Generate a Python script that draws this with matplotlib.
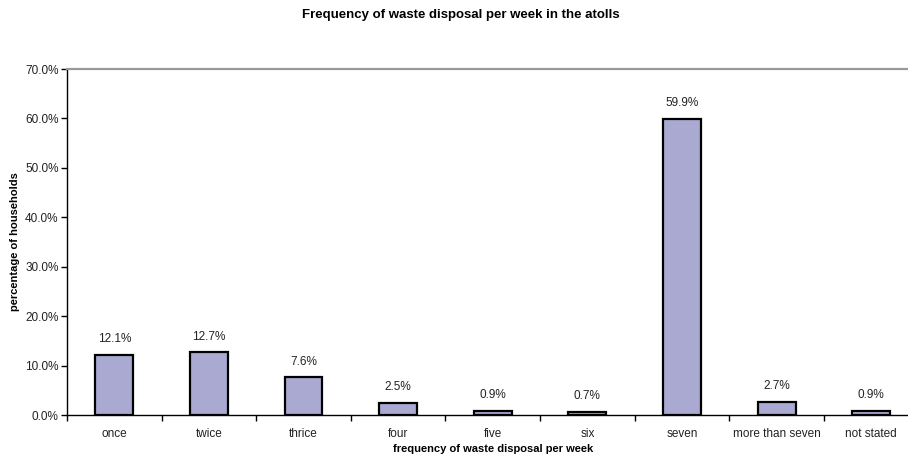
import matplotlib
matplotlib.use("Agg")
import matplotlib.pyplot as plt
from matplotlib.ticker import FuncFormatter

categories = ["once", "twice", "thrice", "four", "five", "six", "seven",
              "more than seven", "not stated"]
values = [12.1, 12.7, 7.6, 2.5, 0.9, 0.7, 59.9, 2.7, 0.9]

plt.rcParams["font.family"] = ["Liberation Sans", "DejaVu Sans"]

fig = plt.figure(figsize=(9.08, 4.61), dpi=100)
ax = fig.add_axes([67 / 908, 1 - 415 / 461, 851.6 / 908, (415 - 69) / 461])

x = list(range(len(categories)))
ax.bar(x, values, width=0.40, color="#A9A9D1", edgecolor="black",
       linewidth=1.6, zorder=3)
for xi, v in zip(x, values):
    ax.annotate(f"{v:.1f}%", (xi, v), xytext=(0, 7), textcoords="offset points",
                ha="center", va="bottom", fontsize=8.5, color="#222222")

ax.set_xlim(-0.5, len(categories) - 0.5)
ax.set_ylim(0, 70)
ax.set_yticks(range(0, 71, 10))
ax.yaxis.set_major_formatter(FuncFormatter(lambda v, p: f"{v:.1f}%"))
ax.set_xticks(x)
ax.set_xticklabels(categories)
ax.set_xticks([i + 0.5 for i in range(-1, len(categories))], minor=True)
ax.tick_params(axis="x", which="major", length=0, pad=9, labelsize=8.5,
               labelcolor="#222222")
ax.tick_params(axis="x", which="minor", length=4, direction="out", width=1)
ax.tick_params(axis="y", length=4, width=1, labelsize=8.5, pad=2,
               labelcolor="#222222")

ax.spines["right"].set_visible(False)
ax.spines["top"].set_color("#9a9a9a")
ax.spines["top"].set_linewidth(1.6)
ax.spines["left"].set_linewidth(1.0)
ax.spines["bottom"].set_linewidth(1.0)

ax.set_xlabel("frequency of waste disposal per week", fontsize=8, fontweight="bold",
              labelpad=3)
ax.set_ylabel("percentage of households", fontsize=8, fontweight="bold", labelpad=4)
fig.text(461 / 908, 1 - 15 / 461, "Frequency of waste disposal per week in the atolls",
         ha="center", va="center", fontsize=9.5, fontweight="bold")

fig.savefig("out.png", dpi=100)
